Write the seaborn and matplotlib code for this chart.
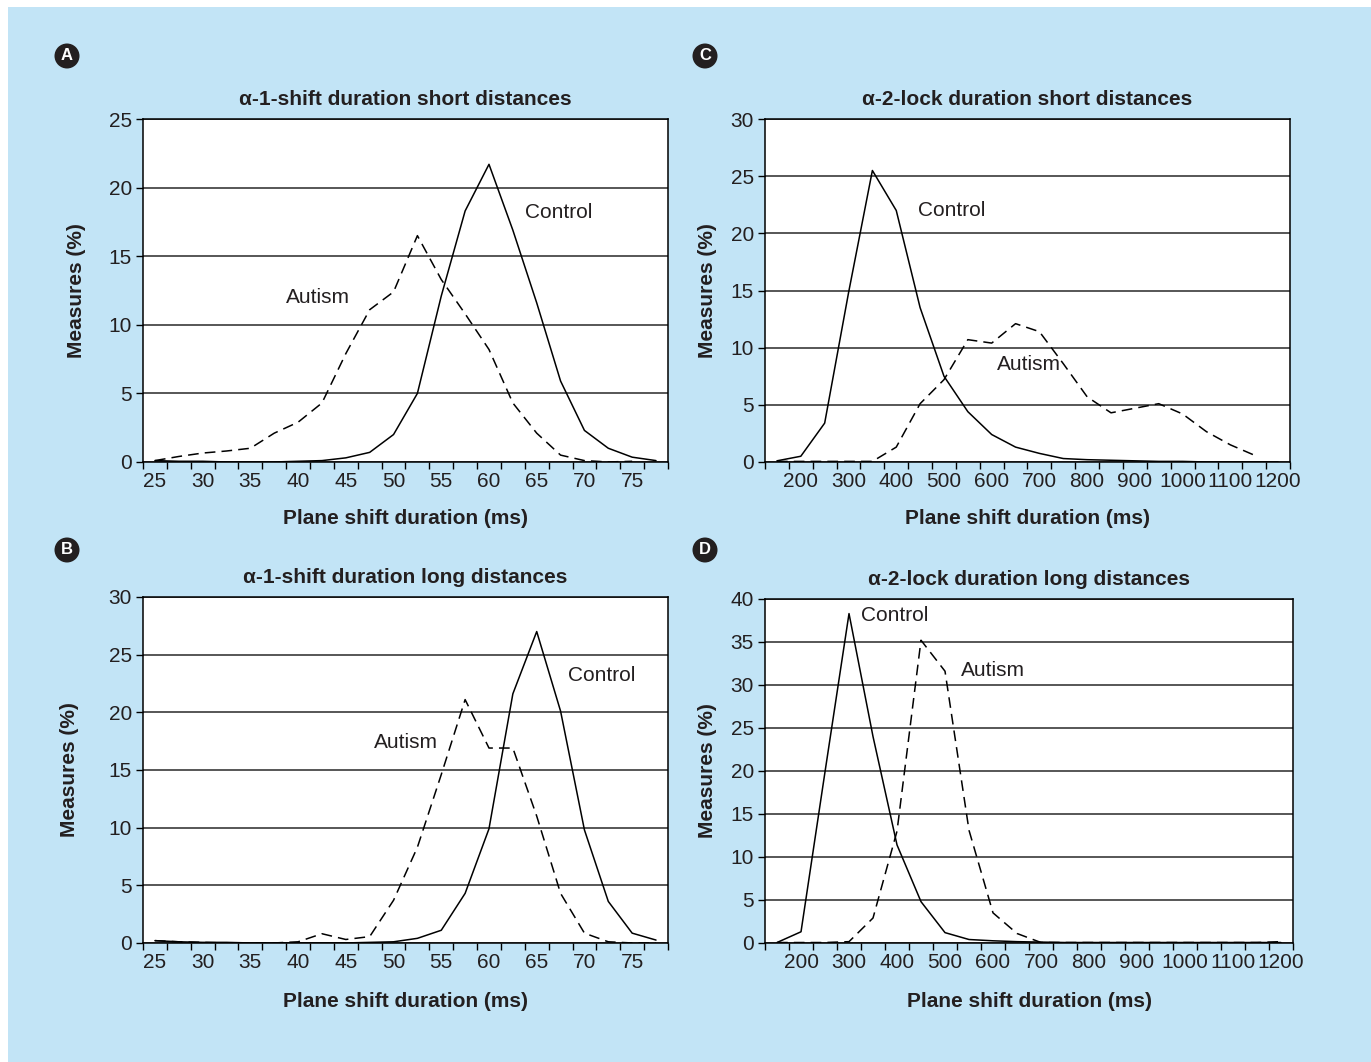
import matplotlib
matplotlib.use("Agg")
import matplotlib.pyplot as plt
from matplotlib.patches import Rectangle, Circle
import numpy as np
import pandas as pd
import seaborn as sns

# settings
sns.set_theme(style="ticks")
plt.rcParams['font.family'] = ['Liberation Sans', 'DejaVu Sans']
INK = '#231f20'
BG = '#c2e4f6'
FS = 15

# data: percentage of measures per duration bin
shift_ms = [25, 27.5, 30, 32.5, 35, 37.5, 40, 42.5, 45, 47.5, 50, 52.5,
            55, 57.5, 60, 62.5, 65, 67.5, 70, 72.5, 75, 77.5]
lock_ms = [150, 200, 250, 300, 350, 400, 450, 500, 550, 600, 650, 700,
           750, 800, 850, 900, 950, 1000, 1050, 1100, 1150, 1200]

a_control = [0.1, 0.05, 0.05, 0.0, 0.0, 0.0, 0.05, 0.1, 0.3, 0.7, 2.0, 5.0,
             12.1, 18.3, 21.7, 16.9, 11.6, 5.9, 2.3, 1.0, 0.35, 0.1]
a_autism = [0.1, 0.4, 0.65, 0.8, 1.0, 2.1, 2.9, 4.3, 7.9, 11.1, 12.4, 16.5,
            13.3, 10.8, 8.2, 4.3, 2.1, 0.5, 0.1, 0.0, 0.05, np.nan]

b_control = [0.2, 0.1, 0.05, 0.05, 0.0, 0.0, 0.0, 0.0, 0.0, 0.05, 0.1, 0.4,
             1.1, 4.3, 9.9, 21.6, 27.0, 20.1, 9.8, 3.6, 0.85, 0.25]
b_autism = [0.2, 0.1, 0.05, 0.0, 0.0, 0.0, 0.1, 0.8, 0.3, 0.55, 3.7, 8.3,
            14.6, 21.1, 16.9, 16.9, 11.0, 4.3, 0.85, 0.1, 0.0, 0.0]

c_control = [0.1, 0.5, 3.4, 14.8, 25.5, 22.0, 13.5, 7.5, 4.4, 2.4, 1.3, 0.75,
             0.3, 0.2, 0.15, 0.1, 0.05, 0.05, 0.0, 0.0, 0.0, 0.0]
c_autism = [0.05, 0.05, 0.05, 0.05, 0.05, 1.3, 5.1, 7.2, 10.7, 10.4, 12.1, 11.4,
            8.6, 5.7, 4.3, 4.7, 5.1, 4.2, 2.65, 1.5, 0.6, np.nan]

d_control = [0.05, 1.3, 19.9, 38.3, 24.0, 11.4, 4.8, 1.2, 0.4, 0.25, 0.15, 0.1,
             0.05, 0.05, 0.05, 0.05, 0.05, 0.05, 0.05, 0.05, 0.05, 0.05]
d_autism = [0.05, 0.05, 0.05, 0.15, 2.9, 13.0, 35.2, 31.6, 13.1, 3.5, 1.1, 0.05,
            0.05, 0.05, 0.05, 0.05, 0.05, 0.05, 0.05, 0.05, 0.05, 0.15]

panels = [
    # letter, title, x, control, autism, ymax, ystep, rect, control label, autism label
    ('A', 'α-1-shift duration short distances', shift_ms, a_control, a_autism, 25, 5,
     [0.1043, 0.5650, 0.3829, 0.3229], (67.3, 18.2), (42.1, 12.0)),
    ('C', 'α-2-lock duration short distances', lock_ms, c_control, c_autism, 30, 5,
     [0.5580, 0.5650, 0.3829, 0.3229], (517, 22.0), (679, 8.5)),
    ('B', 'α-1-shift duration long distances', shift_ms, b_control, b_autism, 30, 5,
     [0.1043, 0.1121, 0.3829, 0.3258], (71.8, 23.2), (51.3, 17.4)),
    ('D', 'α-2-lock duration long distances', lock_ms, d_control, d_autism, 40, 5,
     [0.5580, 0.1121, 0.3851, 0.3239], (396, 38.1), (600, 31.7)),
]
ylabel_x = {'A': -0.109, 'B': -0.122, 'C': -0.091, 'D': -0.091}

fig = plt.figure(figsize=(13.71, 10.62), dpi=100)
fig.patch.set_facecolor('white')
fig.add_artist(Rectangle((8 / 1371, 0), 1, 1 - 7 / 1062, transform=fig.transFigure,
                         facecolor=BG, edgecolor='none', zorder=-10))

for letter, title, xs, ctrl, aut, ymax, ystep, rect, ctrl_pos, aut_pos in panels:
    ax = fig.add_axes(rect)
    ax.set_facecolor('white')
    df = pd.DataFrame({
        'x': list(xs) * 2,
        'y': list(ctrl) + list(aut),
        'group': ['Control'] * len(xs) + ['Autism'] * len(xs),
    })
    sns.lineplot(data=df, x='x', y='y', style='group',
                 dashes={'Control': '', 'Autism': (7, 4)},
                 color='black', lw=1.1, legend=False, errorbar=None, ax=ax)

    step = xs[1] - xs[0]
    lo, hi = xs[0] - step / 2, xs[-1] + step / 2
    ax.set_xlim(lo, hi)
    ax.set_ylim(0, ymax)
    ax.set_yticks(np.arange(0, ymax + 1, ystep))
    ax.set_xticks(xs[::2] if letter in 'AB' else xs[1::2])
    ax.set_xticks(np.arange(lo, hi + step / 2, step), minor=True)
    ax.tick_params(axis='x', which='major', length=0, pad=7, labelsize=FS, colors=INK)
    ax.tick_params(axis='x', which='minor', length=5, width=1, color='black', direction='out')
    ax.tick_params(axis='y', length=5, width=1, color='black', labelsize=FS,
                   labelcolor=INK, pad=3)
    ax.yaxis.grid(True, color='#3a3a3a', lw=1.2)
    ax.set_axisbelow(True)
    for s in ax.spines.values():
        s.set_color('black')
        s.set_linewidth(1.1)
        s.set_visible(True)

    ax.set_title(title, fontsize=FS, fontweight='bold', color=INK, pad=10)
    ax.set_xlabel('Plane shift duration (ms)', fontsize=FS, fontweight='bold', color=INK)
    ax.set_ylabel('Measures (%)', fontsize=FS, fontweight='bold', color=INK)
    ax.xaxis.set_label_coords(0.5, -0.137 if letter in 'AC' else -0.142)
    ax.yaxis.set_label_coords(ylabel_x[letter], 0.5)

    ax.text(*ctrl_pos, 'Control', fontsize=FS, color=INK, ha='center', va='center')
    ax.text(*aut_pos, 'Autism', fontsize=FS, color=INK, ha='center', va='center')

    # panel letter badge
    bx = (67 if letter in 'AB' else 705) / 1371
    by = 1 - (56 if letter in 'AC' else 550) / 1062
    fig.add_artist(Circle((bx * 1371, by * 1062), 12.5, transform=None,
                          facecolor='#231f20', edgecolor='none'))
    fig.text(bx, by, letter, fontsize=12, fontweight='bold', color='white',
             ha='center', va='center')

fig.savefig('out.png', dpi=100, facecolor=fig.get_facecolor())
plt.close()
